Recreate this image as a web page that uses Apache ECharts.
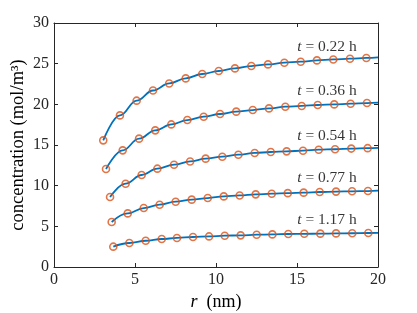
<!DOCTYPE html>
<html><head><meta charset="utf-8">
<script src="https://cdn.jsdelivr.net/npm/echarts@6/dist/echarts.min.js"></script>
<style>html,body{margin:0;padding:0;background:#fff}#c{width:417px;height:313px}</style>
</head><body><div id="c"></div>
<script>
var labels = ['0.22', '0.36', '0.54', '0.77', '1.17'];
var x022 = [3.04, 4.07, 5.10, 6.11, 7.11, 8.13, 9.15, 10.17, 11.17, 12.18, 13.21, 14.22, 15.23, 16.23, 17.24, 18.27, 19.28];
var y022 = [15.57, 18.64, 20.45, 21.7, 22.57, 23.19, 23.73, 24.10, 24.42, 24.71, 24.91, 25.12, 25.24, 25.40, 25.52, 25.61, 25.70];
var x036 = [3.21, 4.24, 5.25, 6.25, 7.24, 8.23, 9.24, 10.25, 11.25, 12.27, 13.27, 14.28, 15.29, 16.28, 17.30, 18.31, 19.32];
var y036 = [12.05, 14.34, 15.78, 16.80, 17.53, 18.07, 18.48, 18.81, 19.10, 19.30, 19.50, 19.71, 19.80, 19.92, 19.99, 20.08, 20.16];
var x054 = [3.46, 4.42, 5.41, 6.38, 7.41, 8.40, 9.36, 10.39, 11.38, 12.39, 13.38, 14.36, 15.37, 16.34, 17.35, 18.35, 19.36];
var y054 = [8.61, 10.24, 11.31, 12.09, 12.58, 12.98, 13.32, 13.56, 13.81, 14.02, 14.14, 14.22, 14.30, 14.42, 14.48, 14.56, 14.61];
var x077 = [3.56, 4.55, 5.54, 6.52, 7.51, 8.50, 9.49, 10.48, 11.46, 12.45, 13.44, 14.43, 15.41, 16.40, 17.41, 18.40, 19.38];
var y077 = [5.53, 6.59, 7.25, 7.66, 8.03, 8.28, 8.48, 8.68, 8.80, 8.93, 9.01, 9.08, 9.14, 9.22, 9.27, 9.31, 9.34];
var x117 = [3.66, 4.65, 5.66, 6.65, 7.59, 8.58, 9.57, 10.54, 11.52, 12.51, 13.48, 14.46, 15.45, 16.44, 17.41, 18.41, 19.40];
var y117 = [2.50, 2.95, 3.23, 3.44, 3.57, 3.69, 3.76, 3.85, 3.89, 3.97, 4.01, 4.06, 4.08, 4.10, 4.13, 4.15, 4.18];
// fitted-curve value at the right edge r = 20
var yEnd = [25.77, 20.2, 14.65, 9.38, 4.2];
var labelY = [27.1, 21.6, 16.15, 10.95, 5.75];
var labelX = 16.85;
var xTicks = [0, 5, 10, 15, 20];
var yTicks = [0, 5, 10, 15, 20, 25, 30];

var X = [x022, x036, x054, x077, x117];
var Y = [y022, y036, y054, y077, y117];
var FONT = 'Liberation Serif';
var AX = '#262626';

var series = [];
X.forEach(function (xs, k) {
  var pts = xs.map(function (x, i) { return [x, Y[k][i]]; });
  series.push({
    type: 'line', data: pts.concat([[20, yEnd[k]]]), smooth: 0.4, smoothMonotone: 'x',
    showSymbol: false, symbol: 'none', lineStyle: { color: '#0072BD', width: 1.8 }, z: 2, animation: false
  });
  series.push({
    type: 'scatter', data: pts, symbol: 'circle', symbolSize: 7,
    itemStyle: { color: 'rgba(255,255,255,0)', borderColor: '#D95319', borderWidth: 1.6 }, z: 3, animation: false
  });
});
series.push({
  type: 'scatter', symbolSize: 0, silent: true, animation: false, z: 4,
  data: labels.map(function (l, k) { return { value: [labelX, labelY[k]], name: l }; }),
  label: {
    show: true, position: 'inside', color: '#000', fontFamily: FONT, fontSize: 15.5,
    formatter: function (p) { return '{i|t} = ' + p.name + ' h'; },
    rich: { i: { fontStyle: 'italic', fontFamily: FONT, fontSize: 15.5, color: '#000' } }
  }
});

function axisBase(extra) {
  var a = {
    type: 'value', min: 0, interval: 5,
    axisLine: { show: true, onZero: false, lineStyle: { color: AX, width: 1 } },
    axisTick: { show: true, inside: true, length: 4, lineStyle: { color: AX } },
    splitLine: { show: false },
    axisLabel: { color: AX, fontFamily: FONT, fontSize: 16 }
  };
  for (var k in extra) a[k] = extra[k];
  return a;
}

var chart = echarts.init(document.getElementById('c'), null, { renderer: 'canvas' });
chart.setOption({
  animation: false,
  grid: { left: 54, right: 39, top: 23, bottom: 46, containLabel: false, outerBoundsMode: 'none' },
  xAxis: [
    axisBase({ max: xTicks[xTicks.length - 1], position: 'bottom',
      name: '{i|r}  (nm)', nameLocation: 'middle', nameGap: 25,
      nameTextStyle: { fontFamily: FONT, fontSize: 18, color: '#000',
        rich: { i: { fontStyle: 'italic', fontFamily: FONT, fontSize: 18, color: '#000' } } },
      axisLabel: { color: AX, fontFamily: FONT, fontSize: 16, margin: 5 } }),
    axisBase({ max: xTicks[xTicks.length - 1], position: 'top', axisLabel: { show: false } })
  ],
  yAxis: [
    axisBase({ max: yTicks[yTicks.length - 1], position: 'left',
      name: 'concentration (mol/m³)', nameLocation: 'middle', nameGap: 26, nameMoveOverlap: false,
      nameTextStyle: { fontFamily: FONT, fontSize: 18.5, color: '#000' },
      axisLabel: { color: AX, fontFamily: FONT, fontSize: 16, margin: 5 } }),
    axisBase({ max: yTicks[yTicks.length - 1], position: 'right', axisLabel: { show: false } })
  ],
  series: series
});
</script></body></html>
